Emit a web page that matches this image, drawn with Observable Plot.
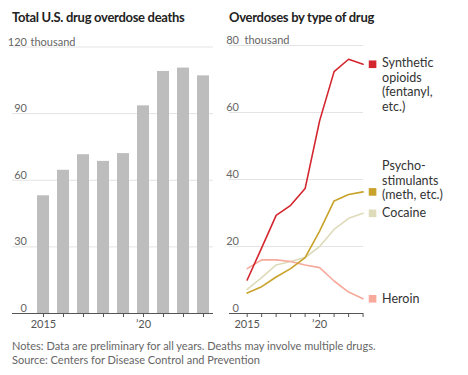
<!DOCTYPE html>
<html>
<head>
<meta charset="utf-8">
<script src="https://cdn.jsdelivr.net/npm/d3@7"></script>
<script src="https://cdn.jsdelivr.net/npm/@observablehq/plot@0.6"></script>
<style>
  html, body { margin: 0; padding: 0; background: #fff; }
  #root { position: relative; width: 468px; height: 375px; font-family: Lato, "Noto Sans", sans-serif; color: #222; overflow: hidden; }
  .title { position: absolute; font-weight: 700; font-size: 13px; letter-spacing: -0.3px; color: #222; white-space: nowrap; }
  .note { position: absolute; left: 12px; font-size: 11px; color: #666; white-space: nowrap; }
  .panel { position: absolute; top: 34px; }
  svg { overflow: visible; }
</style>
</head>
<body>
<div id="root">
  <div class="title" style="left:12px;top:9px">Total U.S. drug overdose deaths</div>
  <div class="title" style="left:229px;top:9px">Overdoses by type of drug</div>
  <div id="left" class="panel" style="left:0px"></div>
  <div id="right" class="panel" style="left:220px"></div>
  <div class="note" style="top:339px">Notes: Data are preliminary for all years. Deaths may involve multiple drugs.</div>
  <div class="note" style="top:353px">Source: Centers for Disease Control and Prevention</div>
</div>
<script>
// ---- data ----
const years = [2015, 2016, 2017, 2018, 2019, 2020, 2021, 2022, 2023];
const totalDeaths = [53, 64.5, 71.5, 68.5, 72, 93.5, 109, 110.5, 107];

const syntheticOpioids = [10.0, 19.6, 29.3, 32.3, 37.3, 57.5, 72.2, 75.9, 74.4];
const psychostimulants = [6.1, 8.0, 10.9, 13.4, 16.7, 24.6, 33.6, 35.5, 36.3];
const cocaine = [7.2, 10.7, 14.5, 15.5, 16.7, 20.0, 25.1, 28.4, 29.9];
const heroin = [13.4, 16.0, 16.0, 15.5, 14.5, 13.7, 9.7, 6.4, 4.4];

const seriesNames = ["Synthetic opioids", "Psychostimulants", "Cocaine", "Heroin"];
const seriesLabels = ["Synthetic\nopioids\n(fentanyl,\netc.)", "Psycho-\nstimulants\n(meth, etc.)", "Cocaine", "Heroin"];
const seriesColors = ["#d4262e", "#c8a22a", "#dedbbb", "#f7a99b"];

const leftYTicks = [0, 30, 60, 90, 120];
const rightYTicks = [0, 20, 40, 60, 80];
const xTickLabels = {2015: "2015", 2020: "\u201920"};
const unitLabel = "thousand";

// ---- left: bar chart ----
const barData = years.map((year, i) => ({year, value: totalDeaths[i]}));
const tickFmt = d => xTickLabels[d] || "";

const left = Plot.plot({
  width: 220, height: 304,
  marginLeft: 12, marginRight: 7, marginTop: 12.5, marginBottom: 25,
  style: {fontFamily: "Lato, 'Noto Sans', sans-serif", background: "transparent"},
  x: {type: "band", domain: years, paddingInner: 0.4, paddingOuter: 0.725, align: 0.862, axis: null},
  y: {domain: [0, 120], axis: null},
  marks: [
    Plot.ruleY(leftYTicks.slice(1), {stroke: "#e4e4e4", strokeWidth: 1}),
    Plot.barY(barData, {x: "year", y: "value", fill: "#bdbdbd"}),
    Plot.ruleY([0], {stroke: "#555", strokeWidth: 1}),
    Plot.axisX({label: null, tickSize: 4, tickPadding: 3, tickFormat: tickFmt, fontSize: 11, color: "#555", stroke: "#555"}),
    Plot.text(leftYTicks, {y: d => d, text: d => String(d), frameAnchor: "left", dx: 14.5, textAnchor: "end", lineAnchor: "bottom", dy: -1.5, fontSize: 11, fill: "#666"}),
    Plot.text([120], {y: d => d, text: () => unitLabel, frameAnchor: "left", dx: 18, textAnchor: "start", lineAnchor: "bottom", dy: -1.5, fontSize: 11, fill: "#666"})
  ]
});
document.getElementById("left").append(left);

// ---- right: line chart ----
const allSeries = [syntheticOpioids, psychostimulants, cocaine, heroin];
const lineData = [];
allSeries.forEach((vals, s) => vals.forEach((v, i) => lineData.push({year: years[i], value: v, series: seriesNames[s]})));
const endData = allSeries.map((vals, s) => ({year: years[years.length - 1], value: vals[vals.length - 1], series: seriesNames[s], label: seriesLabels[s]}));
const colorScale = {domain: seriesNames, range: seriesColors};

const right = Plot.plot({
  width: 248, height: 304,
  marginLeft: 9, marginRight: 105, marginTop: 11, marginBottom: 25,
  style: {fontFamily: "Lato, 'Noto Sans', sans-serif", background: "transparent", overflow: "visible"},
  x: {domain: [2013.78, 2023.03], axis: null},
  y: {domain: [0, 80], axis: null},
  color: colorScale,
  marks: [
    Plot.ruleY(rightYTicks.slice(1), {stroke: "#e4e4e4", strokeWidth: 1}),
    Plot.ruleY([0], {stroke: "#555", strokeWidth: 1}),
    Plot.axisX({label: null, ticks: years, tickSize: 4, tickPadding: 3, tickFormat: tickFmt, fontSize: 11, color: "#555", stroke: "#555"}),
    Plot.line(lineData.filter(d => d.series === "Cocaine"), {x: "year", y: "value", stroke: "series", strokeWidth: 1.6}),
    Plot.line(lineData.filter(d => d.series === "Heroin"), {x: "year", y: "value", stroke: "series", strokeWidth: 1.6}),
    Plot.line(lineData.filter(d => d.series === "Psychostimulants"), {x: "year", y: "value", stroke: "series", strokeWidth: 1.6}),
    Plot.line(lineData.filter(d => d.series === "Synthetic opioids"), {x: "year", y: "value", stroke: "series", strokeWidth: 1.6}),
    Plot.dot(endData, {x: "year", y: "value", fill: "series", symbol: "square", r: 4.3, dx: 9.5}),
    Plot.text(endData.filter(d => d.series === "Synthetic opioids"), {x: "year", y: "value", text: "label", dx: 19, dy: -7.5, textAnchor: "start", lineAnchor: "top", lineHeight: 1.16, fontSize: 12.5, fill: "#333"}),
    Plot.text(endData.filter(d => d.series === "Psychostimulants"), {x: "year", y: "value", text: "label", dx: 19, dy: 7.5, textAnchor: "start", lineAnchor: "bottom", lineHeight: 1.16, fontSize: 12.5, fill: "#333"}),
    Plot.text(endData.filter(d => d.series === "Cocaine" || d.series === "Heroin"), {x: "year", y: "value", text: "label", dx: 19, textAnchor: "start", lineAnchor: "middle", fontSize: 12.5, fill: "#333"}),
    Plot.text(rightYTicks, {y: d => d, text: d => String(d), frameAnchor: "left", dx: 9.5, textAnchor: "end", lineAnchor: "bottom", dy: -1.5, fontSize: 11, fill: "#666"}),
    Plot.text([80], {y: d => d, text: () => unitLabel, frameAnchor: "left", dx: 15, textAnchor: "start", lineAnchor: "bottom", dy: -1.5, fontSize: 11, fill: "#666"})
  ]
});
document.getElementById("right").append(right);
</script>
</body>
</html>
